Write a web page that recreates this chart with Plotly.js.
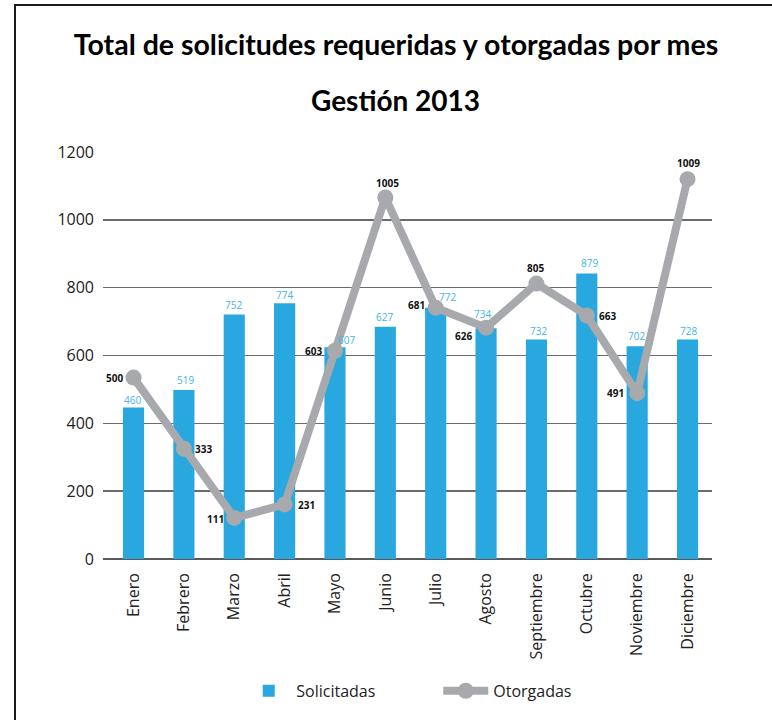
<!DOCTYPE html>
<html>
<head>
<meta charset="utf-8">
<script src="https://cdn.plot.ly/plotly-3.0.1.min.js"></script>
<style>
  html, body { margin: 0; padding: 0; background: #fff; }
  #chart { width: 772px; height: 720px; position: relative; }
  #frame { position: absolute; left: 14px; top: 4px; width: 758px; height: 716px;
           border-left: 2.5px solid #1a1a1a; border-top: 2.5px solid #1a1a1a;
           pointer-events: none; box-sizing: border-box; }
</style>
</head>
<body>
<div id="chart"></div>
<div id="frame"></div>
<script>
// Categories
var meses = ['Enero', 'Febrero', 'Marzo', 'Abril', 'Mayo', 'Junio', 'Julio',
             'Agosto', 'Septiembre', 'Octubre', 'Noviembre', 'Diciembre'];

// Solicitadas: bar heights as drawn, and their printed labels
var solicitadasValores = [447, 498, 721, 754, 624, 685, 741, 680, 647, 842, 627, 647];
var solicitadasEtiquetas = ['460', '519', '752', '774', '607', '627', '772', '734', '732', '879', '702', '728'];

// Otorgadas: point heights as drawn, and their printed labels
var otorgadasValores = [535, 325, 121, 161, 614, 1066, 741, 682, 812, 718, 489, 1120];
var otorgadasEtiquetas = ['500', '333', '111', '231', '603', '1005', '681', '626', '805', '663', '491', '1009'];

// Label offsets (px) — styling only
var barLabelDx = [-1, 2, -1, 0, 12, -1, 12, -4, 2, 3, -1, 1];
var barLabelDy = [7, 10, 9, 8, 7, 10, 11, 14, 9, 10, 10, 9];
var lineLabelDx = [-19, 20, -19, 22, -21, 2, -19, -23, -1, 21, -22, 1];
var lineLabelDy = [0, 0, -1, -1, 0, 14, 3, -8, 16, -1, 0, 16];

var azul = '#29a8e0';
var gris = '#a7a9ac';
var fuente = 'Open Sans, Noto Sans, sans-serif';
var fuenteTitulo = 'Lato, Open Sans, sans-serif';

var traces = [
  {
    type: 'bar', name: 'Solicitadas', x: meses, y: solicitadasValores,
    marker: { color: azul }, width: 0.42, hoverinfo: 'x+y'
  },
  {
    type: 'scatter', mode: 'lines+markers', name: 'Otorgadas', x: meses, y: otorgadasValores,
    line: { color: gris, width: 8 }, marker: { color: gris, size: 16 }
  }
];

var annotations = [];
meses.forEach(function (m, i) {
  annotations.push({
    x: m, y: solicitadasValores[i], xref: 'x', yref: 'y', text: solicitadasEtiquetas[i],
    showarrow: false, xanchor: 'center', yanchor: 'middle',
    xshift: barLabelDx[i], yshift: barLabelDy[i],
    font: { family: fuente, size: 10, color: '#45b3e7' }
  });
  annotations.push({
    x: m, y: otorgadasValores[i], xref: 'x', yref: 'y', text: '<b>' + otorgadasEtiquetas[i] + '</b>',
    showarrow: false, xanchor: 'center', yanchor: 'middle',
    xshift: lineLabelDx[i], yshift: lineLabelDy[i],
    font: { family: fuente, size: 10, color: '#111' }
  });
});
annotations.push({
  text: '<b>Gestión 2013</b>', xref: 'paper', yref: 'paper', x: 0.48, y: 1.127,
  xanchor: 'center', yanchor: 'middle', showarrow: false,
  font: { family: fuenteTitulo, size: 28, color: '#000' }
});

var layout = {
  width: 772, height: 720,
  margin: { l: 103, r: 60, t: 152, b: 159, pad: 0 },
  paper_bgcolor: '#fff', plot_bgcolor: '#fff',
  title: {
    text: '<b>Total de solicitudes requeridas y otorgadas por mes</b>',
    font: { family: fuenteTitulo, size: 28.5, color: '#000' },
    x: 0.513, xanchor: 'center', y: 0.938, yanchor: 'middle', xref: 'container', yref: 'container'
  },
  xaxis: {
    type: 'category', range: [-0.606, 11.486], showgrid: false, zeroline: false,
    showline: false, ticks: '', tickangle: -90, ticklabelstandoff: 10,
    tickfont: { family: fuente, size: 16, color: '#222' }, fixedrange: true
  },
  yaxis: {
    range: [0, 1200], dtick: 200, showgrid: true, gridcolor: '#6b6b6b', gridwidth: 1.5,
    zeroline: true, zerolinecolor: '#5a5a5a', zerolinewidth: 2,
    showline: false, ticks: '', ticklabelstandoff: 8,
    tickfont: { family: fuente, size: 16, color: '#222' }, fixedrange: true
  },
  showlegend: true,
  legend: {
    orientation: 'h', x: 0.227, xanchor: 'left', y: -0.324, yanchor: 'middle',
    font: { family: fuente, size: 16, color: '#222' }, itemwidth: 45,
    entrywidth: 137, traceorder: 'normal'
  },
  annotations: annotations
};

Plotly.newPlot('chart', traces, layout, { displayModeBar: false, staticPlot: true });
</script>
</body>
</html>
